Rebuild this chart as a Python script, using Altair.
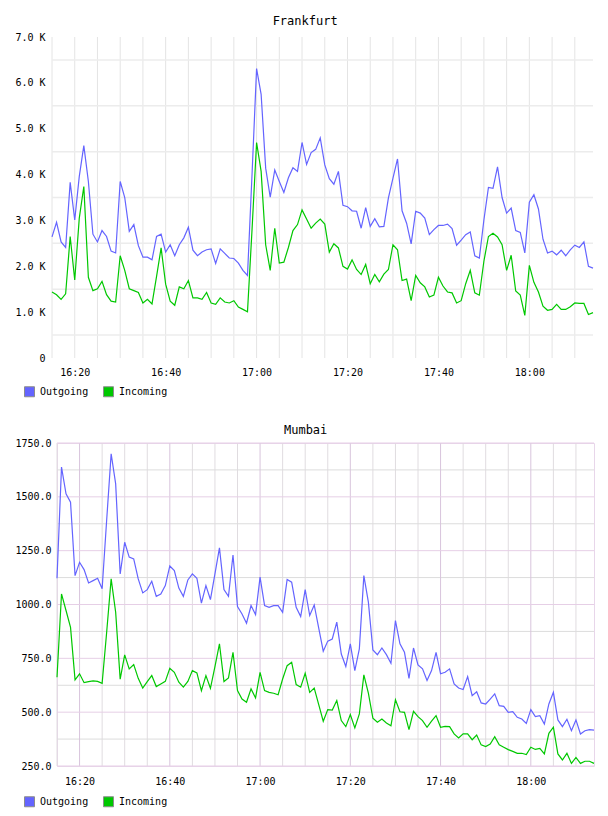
import altair as alt
import pandas as pd

# One sample per minute, 16:15 .. 18:14
times = pd.date_range("2024-01-01 16:15", periods=120, freq="min")
series_names = ["Outgoing", "Incoming"]
series_colors = ["#6464ff", "#00c800"]

# Frankfurt traffic (thousands)
fra_out_k = [2.64, 2.96, 2.53, 2.41, 3.83, 3.01, 3.96, 4.63, 3.85, 2.70,
             2.53, 2.78, 2.65, 2.33, 2.29, 3.85, 3.50, 2.76, 2.91, 2.45,
             2.20, 2.20, 2.14, 2.65, 2.70, 2.31, 2.47, 2.23, 2.47, 2.62,
             2.85, 2.35, 2.23, 2.31, 2.36, 2.38, 2.06, 2.38, 2.28, 2.18,
             2.17, 2.07, 1.91, 1.80, 4.00, 6.31, 5.75, 4.14, 3.51, 4.10,
             3.85, 3.61, 3.93, 4.15, 4.07, 4.70, 4.22, 4.48, 4.55, 4.80,
             4.21, 3.91, 3.79, 4.07, 3.33, 3.30, 3.21, 3.20, 2.83, 3.28,
             2.87, 3.04, 2.86, 2.87, 3.49, 3.92, 4.34, 3.21, 2.94, 2.49,
             3.20, 3.16, 3.05, 2.69, 2.80, 2.89, 2.89, 2.92, 2.82, 2.46,
             2.57, 2.69, 2.75, 2.23, 2.18, 3.01, 3.72, 3.70, 4.17, 3.50,
             3.16, 3.27, 2.78, 2.74, 2.29, 3.40, 3.56, 3.25, 2.59, 2.29,
             2.33, 2.25, 2.35, 2.23, 2.36, 2.46, 2.41, 2.53, 2.00, 1.96]
fra_in_k = [1.44, 1.38, 1.28, 1.40, 2.65, 1.70, 3.05, 3.74, 1.76, 1.47,
            1.51, 1.67, 1.38, 1.24, 1.22, 2.23, 1.91, 1.51, 1.47, 1.43,
            1.20, 1.28, 1.18, 1.78, 2.40, 1.61, 1.24, 1.15, 1.55, 1.51,
            1.69, 1.31, 1.31, 1.28, 1.43, 1.20, 1.17, 1.31, 1.22, 1.20,
            1.25, 1.11, 1.06, 1.01, 2.80, 4.70, 4.07, 2.47, 1.91, 2.83,
            2.07, 2.09, 2.41, 2.78, 2.91, 3.23, 3.03, 2.83, 2.94, 3.03,
            2.92, 2.31, 2.49, 2.40, 2.00, 1.94, 2.14, 1.93, 1.82, 2.04,
            1.62, 1.82, 1.66, 1.83, 1.93, 2.47, 2.36, 1.69, 1.72, 1.25,
            1.80, 1.64, 1.55, 1.33, 1.37, 1.76, 1.57, 1.44, 1.42, 1.20,
            1.25, 1.62, 1.91, 1.42, 1.37, 2.11, 2.65, 2.72, 2.64, 2.47,
            1.91, 2.24, 1.46, 1.37, 0.93, 2.02, 1.65, 1.44, 1.13, 1.04,
            1.06, 1.17, 1.06, 1.06, 1.12, 1.20, 1.19, 1.19, 0.95, 0.99]

# Mumbai traffic
mum_out = [1122, 1638, 1514, 1475, 1134, 1196, 1162, 1100, 1111, 1122,
           1073, 1390, 1700, 1560, 1142, 1289, 1220, 1212, 1119, 1054,
           1069, 1108, 1038, 1049, 1088, 1179, 1158, 1076, 1038, 1114,
           1142, 1122, 1006, 1088, 1023, 1142, 1263, 1069, 1038, 1230,
           990, 956, 913, 995, 953, 1127, 995, 987, 995, 995,
           964, 1116, 1104, 987, 944, 1069, 949, 998, 890, 783,
           830, 840, 918, 770, 712, 817, 693, 794, 1134, 1011,
           789, 767, 798, 767, 727, 925, 817, 778, 657, 798,
           719, 701, 647, 693, 778, 678, 685, 701, 631, 612,
           605, 665, 577, 595, 543, 538, 561, 585, 530, 527,
           499, 502, 476, 468, 448, 512, 479, 484, 445, 538,
           592, 464, 433, 467, 414, 464, 399, 414, 419, 417]
mum_in = [662, 1049, 972, 894, 650, 678, 637, 642, 645, 643,
          634, 870, 1119, 964, 653, 766, 701, 721, 657, 612,
          642, 670, 619, 631, 643, 704, 685, 639, 616, 643,
          693, 682, 600, 670, 611, 712, 817, 642, 659, 778,
          600, 561, 546, 608, 566, 685, 600, 592, 588, 581,
          654, 716, 732, 628, 616, 681, 592, 612, 535, 458,
          512, 510, 554, 461, 433, 489, 427, 492, 673, 588,
          472, 453, 468, 450, 437, 558, 502, 499, 419, 504,
          479, 461, 430, 458, 484, 430, 434, 433, 399, 380,
          399, 399, 372, 394, 348, 340, 352, 386, 348, 337,
          326, 318, 309, 309, 303, 337, 327, 332, 306, 402,
          430, 306, 278, 309, 262, 290, 262, 272, 272, 262]

# Tick positions
fra_label_ticks = list(range(0, 7001, 1000))
fra_grid_ticks = list(range(500, 7000, 1000))
mum_label_ticks = list(range(250, 1751, 250))
mum_minor_ticks = list(range(375, 1750, 250))
time_grid = pd.date_range("2024-01-01 16:15", "2024-01-01 18:10", freq="5min")
time_label_hours = [(16, 20), (16, 40), (17, 0), (17, 20), (17, 40), (18, 0)]

FONT = "DejaVu Sans Mono"


def frame(out_vals, in_vals):
    rows = []
    for name, vals in zip(series_names, [out_vals, in_vals]):
        for t, v in zip(times, vals):
            rows.append({"time": t, "value": v, "series": name})
    return pd.DataFrame(rows)


def dt(h, m):
    return alt.DateTime(year=2024, month=1, date=1, hours=h, minutes=m)


X_SCALE = alt.Scale(domain=[dt(16, 15), dt(18, 14)], nice=False)


def vrules(stamps, color, width=1):
    df = pd.DataFrame({"time": list(stamps)})
    return alt.Chart(df).mark_rule(color=color, strokeWidth=width).encode(
        x=alt.X("time:T", scale=X_SCALE)
    )


def hrules(values, y_scale, color, width=1):
    df = pd.DataFrame({"value": values})
    return alt.Chart(df).mark_rule(color=color, strokeWidth=width).encode(
        y=alt.Y("value:Q", scale=y_scale)
    )


def panel(title, df, y_scale, y_axis, grids, view_stroke, width, height,
          legend_x, legend_y, title_offset, x_label_pad):
    x = alt.X(
        "time:T",
        scale=X_SCALE,
        axis=alt.Axis(
            values=[dt(h, m) for h, m in time_label_hours],
            format="%H:%M", grid=False,
            labelFont=FONT, labelFontSize=10, labelColor="#000000",
            domain=False, ticks=False, labelOverlap=False, labelFlush=False,
            labelPadding=x_label_pad, title=None,
        ),
    )
    y = alt.Y("value:Q", scale=y_scale, axis=y_axis)

    # stroke colours for the lines (domain listed alphabetically)
    line_scale = alt.Scale(domain=sorted(series_names),
                           range=[series_colors[series_names.index(s)] for s in sorted(series_names)])
    # fill colours for the legend swatches, in legend order
    key_scale = alt.Scale(domain=series_names, range=series_colors)

    lines = alt.Chart(df).mark_line(strokeWidth=1.2).encode(
        x=x, y=y,
        color=alt.Color("series:N", scale=line_scale, legend=None),
    )
    # zero-size filled squares carry the legend swatches
    keys = alt.Chart(df).mark_square(size=0, filled=True, opacity=1).encode(
        x=x, y=y,
        fill=alt.Fill(
            "series:N", scale=key_scale,
            legend=alt.Legend(
                orient="none", legendX=legend_x, legendY=legend_y,
                direction="horizontal", title=None,
                symbolType="square", symbolSize=100, symbolOpacity=1,
                symbolStrokeColor="#8c8c8c", symbolStrokeWidth=1,
                labelFont=FONT, labelFontSize=10, labelColor="#000000",
                labelOffset=5, columnPadding=12,
            ),
        ),
    )
    body = alt.layer(*grids, lines, keys).properties(
        width=width, height=height,
        title=alt.TitleParams(title, font=FONT, fontSize=12, fontWeight="normal",
                              color="#000000", anchor="middle", frame="bounds",
                              offset=title_offset),
        view=alt.ViewBackground(stroke=view_stroke),
    )
    # a 1px blank cell on the left lets each panel's plot start right after its own labels
    gutter = alt.Chart(pd.DataFrame({"series": [""]})).mark_point(opacity=0).properties(
        width=1, height=1, view=alt.ViewBackground(stroke="transparent"),
    )
    return alt.hconcat(gutter, body, spacing=0).resolve_scale(
        color="independent", fill="independent"
    ).resolve_legend(color="independent", fill="independent")


fra_scale = alt.Scale(domain=[0, 7000], nice=False, zero=False)
mum_scale = alt.Scale(domain=[250, 1750], nice=False, zero=False)

fra_axis = alt.Axis(
    values=fra_label_ticks,
    labelExpr="datum.value === 0 ? '0' : format(datum.value / 1000, '.1f') + ' K'",
    labelFont=FONT, labelFontSize=10, labelColor="#000000",
    grid=False, domain=False, ticks=False, labelOverlap=False, labelPadding=7, title=None,
)
mum_axis = alt.Axis(
    values=mum_label_ticks, format=".1f",
    labelFont=FONT, labelFontSize=10, labelColor="#000000",
    grid=False, domain=False, ticks=False, labelOverlap=False, labelPadding=6, title=None,
)

major_times = [t for t in time_grid if t.minute % 20 == 0]
minor_times = [t for t in time_grid if t.minute % 20 != 0]

fra = panel(
    "Frankfurt",
    frame([v * 1000 for v in fra_out_k], [v * 1000 for v in fra_in_k]),
    fra_scale, fra_axis,
    [vrules(time_grid, "#e4e4e4"), hrules(fra_grid_ticks, fra_scale, "#ececec", 1.5)],
    "transparent", 541, 321, -28, 349, 4, 9,
)
mum = panel(
    "Mumbai",
    frame(mum_out, mum_in),
    mum_scale, mum_axis,
    [vrules(minor_times, "#e0dce0"), hrules(mum_minor_ticks, mum_scale, "#dcdcdc"),
     vrules(major_times, "#d8c4dc"), hrules(mum_label_ticks, mum_scale, "#e6cfe6")],
    "#e8d6ea", 537, 323, -33, 353, 1, 10,
)

chart = alt.vconcat(fra, mum, spacing=23).resolve_scale(
    color="independent", fill="independent"
).resolve_legend(color="independent", fill="independent").properties(
    padding={"left": 7, "top": 14, "right": 5, "bottom": 5},
).configure(background="white")

chart.save("out.html", embed_options={"renderer": "svg", "actions": False})
